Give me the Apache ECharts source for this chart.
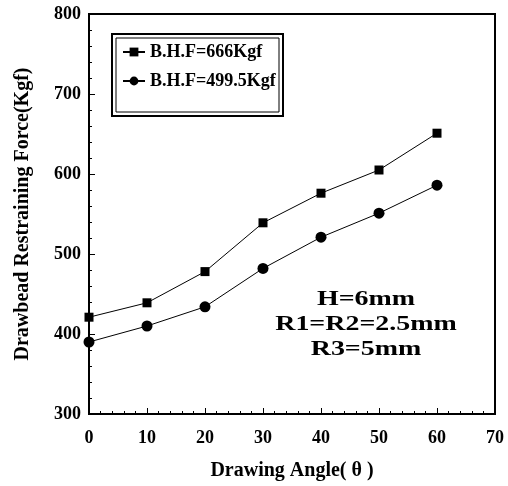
<!DOCTYPE html>
<html>
<head>
<meta charset="utf-8">
<script src="https://cdn.jsdelivr.net/npm/echarts@6/dist/echarts.min.js"></script>
<style>
  html, body { margin: 0; padding: 0; background: #fff; }
  #chart { width: 508px; height: 486px; }
</style>
</head>
<body>
<div id="chart"></div>
<script>
// drawing angle (deg)
const angles = [0, 10, 20, 30, 40, 50, 60]
const seriesNames = ['B.H.F=666Kgf', 'B.H.F=499.5Kgf']
// restraining force (Kgf)
const force666 = [421, 439, 478, 539, 576, 605, 651]
const force499 = [390, 410, 434, 482, 521, 551, 586]
const notes = ['H=6mm', 'R1=R2=2.5mm', 'R3=5mm']

const font = 'Liberation Serif'
const pair = (ys) => angles.map((x, i) => [x, ys[i]])

const chart = echarts.init(document.getElementById('chart'))
const option = {
  animation: false,
  backgroundColor: '#fff',
  grid: {
    left: 89, right: 13, top: 14, bottom: 70,
    show: true, borderColor: '#000', borderWidth: 2
  },
  legend: {
    orient: 'vertical',
    left: 122, top: 43,
    itemWidth: 22, itemHeight: 11, itemGap: 11,
    data: seriesNames,
    textStyle: { fontFamily: font, fontWeight: 'bold', fontSize: 18, color: '#000' },
    padding: 0
  },
  graphic: [
    { type: 'rect', shape: { x: 112, y: 34, width: 171, height: 82 },
      style: { fill: null, stroke: '#000', lineWidth: 2 } },
    { type: 'rect', shape: { x: 116, y: 38, width: 163, height: 74 },
      style: { fill: null, stroke: '#000', lineWidth: 1 } },
    ...notes.map((t, i) => ({
      type: 'text', x: 366, y: 300 + i * 25, scaleX: 1.33,
      style: { text: t, textAlign: 'center', textVerticalAlign: 'middle',
        font: 'bold 21px "Liberation Serif"', fill: '#000' }
    }))
  ],
  xAxis: {
    type: 'value', min: 0, max: 70, interval: 10,
    name: 'Drawing Angle( θ )', nameLocation: 'middle', nameGap: 47,
    nameTextStyle: { fontFamily: font, fontWeight: 'bold', fontSize: 20, color: '#000' },
    axisLine: { lineStyle: { color: '#000', width: 2 } },
    axisTick: { inside: true, length: 6, lineStyle: { color: '#000' } },
    minorTick: { show: true, splitNumber: 5, length: 3, lineStyle: { color: '#000' } },
    splitLine: { show: false },
    axisLabel: { margin: 15, fontFamily: font, fontWeight: 'bold', fontSize: 18, color: '#000' }
  },
  yAxis: {
    type: 'value', min: 300, max: 800, interval: 100,
    name: 'Drawbead Restraining Force(Kgf)', nameLocation: 'middle', nameGap: 56, nameRotate: 90,
    nameTextStyle: { fontFamily: font, fontWeight: 'bold', fontSize: 20, color: '#000' },
    axisLine: { lineStyle: { color: '#000', width: 2 } },
    axisTick: { inside: true, length: 6, lineStyle: { color: '#000' } },
    minorTick: { show: true, splitNumber: 5, length: 3, lineStyle: { color: '#000' } },
    splitLine: { show: false },
    axisLabel: { margin: 8, fontFamily: font, fontWeight: 'bold', fontSize: 18, color: '#000' }
  },
  series: [
    {
      name: seriesNames[0], type: 'line', data: pair(force666),
      symbol: 'rect', symbolSize: 9,
      lineStyle: { color: '#000', width: 1 }, itemStyle: { color: '#000' }
    },
    {
      name: seriesNames[1], type: 'line', data: pair(force499),
      symbol: 'circle', symbolSize: 11,
      lineStyle: { color: '#000', width: 1 }, itemStyle: { color: '#000' }
    }
  ]
}
chart.setOption(option)
</script>
</body>
</html>
